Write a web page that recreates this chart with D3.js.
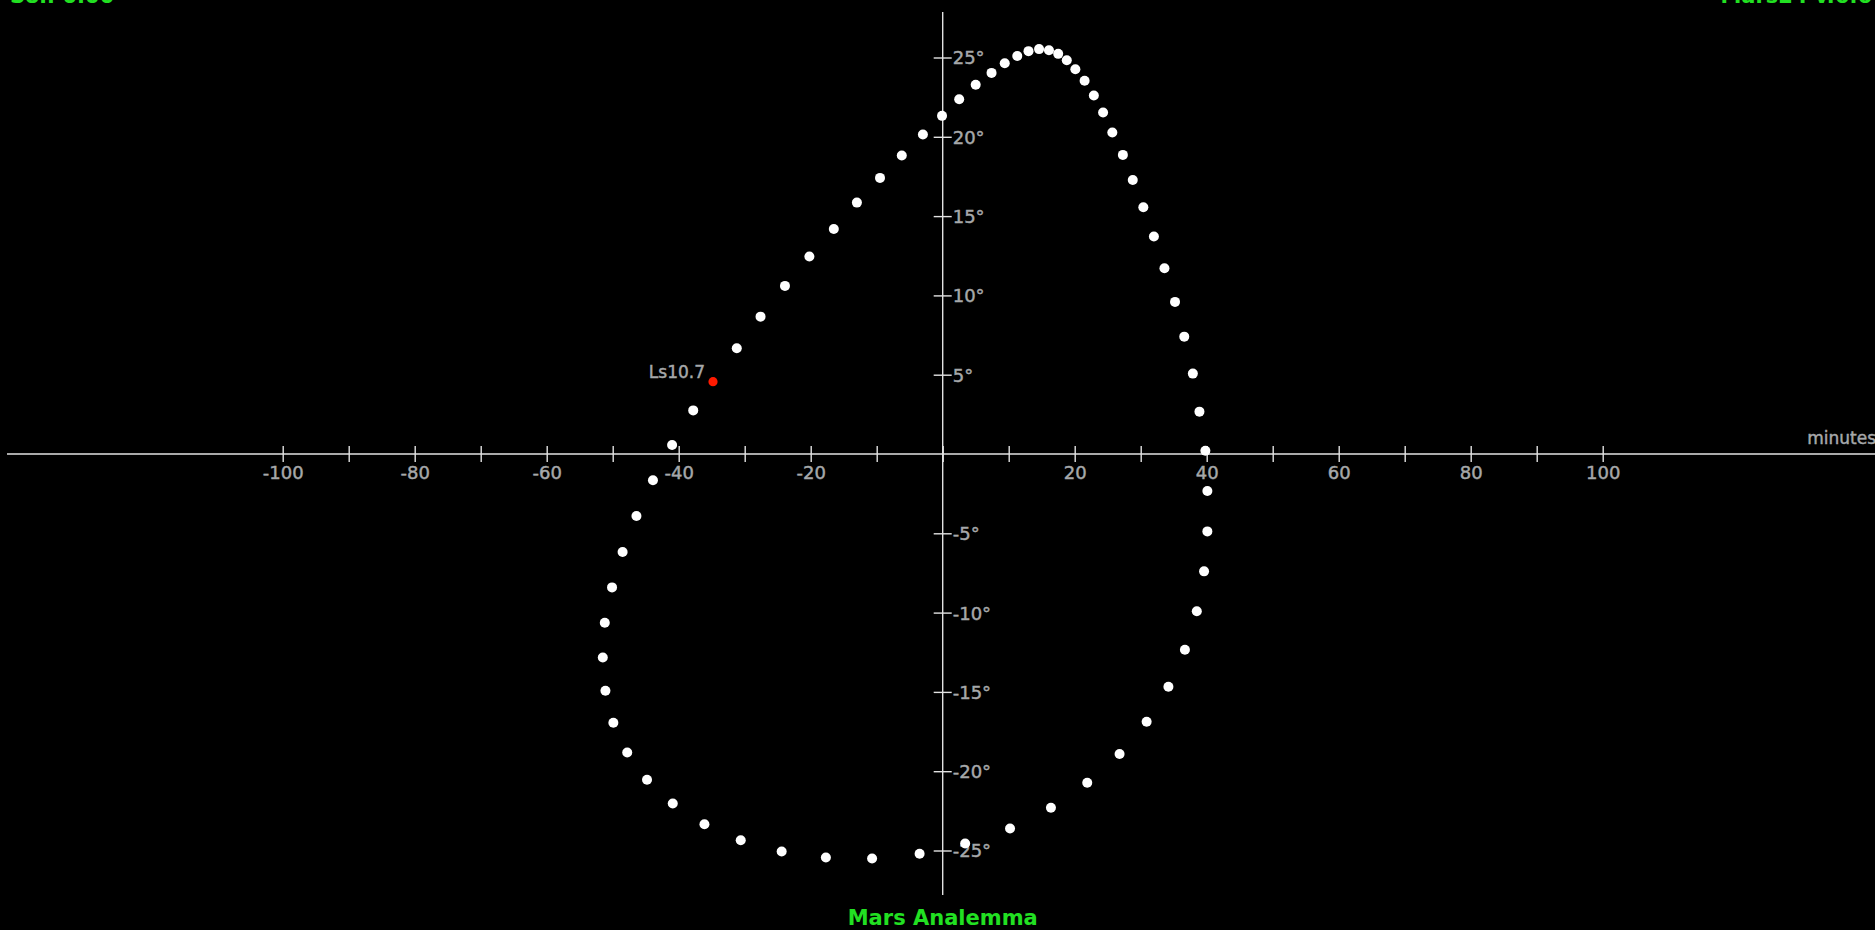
<!DOCTYPE html>
<html>
<head>
<meta charset="utf-8">
<script src="https://cdn.jsdelivr.net/npm/d3@7"></script>
<style>
body { margin: 0; background: #000; overflow: hidden; }
</style>
</head>
<body>
<div id="chart"></div>
<script>
// equation of time (minutes) and declination (degrees), in order round the loop
const minutes = [
    -41.0, -37.8, -31.2, -27.6, -23.9, -20.2, -16.5, -13.0, -9.5, -6.2,
    -3.0, -0.1, 2.5, 5.0, 7.4, 9.4, 11.3, 13.0, 14.6, 16.1,
    17.5, 18.8, 20.1, 21.5, 22.9, 24.3, 25.7, 27.3, 28.8, 30.4,
    32.0, 33.6, 35.2, 36.6, 37.9, 38.9, 39.8, 40.1, 40.1, 39.6,
    38.5, 36.7, 34.2, 30.9, 26.8, 21.9, 16.4, 10.2, 3.4, -3.5,
    -10.7, -17.7, -24.4, -30.6, -36.1, -40.9, -44.8, -47.8, -49.9, -51.1,
    -51.5, -51.2, -50.1, -48.5, -46.4, -43.9
]
const degrees = [
    0.57, 2.75, 6.67, 8.66, 10.60, 12.45, 14.19, 15.85, 17.41, 18.82,
    20.14, 21.32, 22.37, 23.28, 24.03, 24.64, 25.10, 25.40, 25.53, 25.46,
    25.23, 24.83, 24.26, 23.53, 22.60, 21.53, 20.27, 18.86, 17.28, 15.56,
    13.71, 11.71, 9.59, 7.40, 5.07, 2.67, 0.21, -2.33, -4.88, -7.40,
    -9.92, -12.34, -14.68, -16.88, -18.92, -20.73, -22.31, -23.61, -24.56, -25.21,
    -25.50, -25.44, -25.06, -24.35, -23.34, -22.04, -20.54, -18.82, -16.95, -14.93,
    -12.83, -10.64, -8.41, -6.18, -3.91, -1.66
]

// current position
const markerLabel = "Ls10.7"
const markerMinute = -34.8
const markerDegree = 4.56

const xTicks = [-100, -90, -80, -70, -60, -50, -40, -30, -20, -10, 0, 10, 20, 30, 40, 50, 60, 70, 80, 90, 100]
const xLabels = [-100, -80, -60, -40, -20, 20, 40, 60, 80, 100]
const yTicks = [-25, -20, -15, -10, -5, 5, 10, 15, 20, 25]

const title = "Mars Analemma"
const topLeftText = "Sol: 0.00"
const topRightText = "Mars24 v.6.6"

const width = 1875
const height = 930
const labelColor = "#a6a8aa"
const green = "#22e022"

const svg = d3.select("#chart")
    .append("svg")
        .attr("width", width)
        .attr("height", height)
        .style("background", "#000")

const xScale = d3.scaleLinear()
    .domain([-100, 100])
    .range([282.7, 1602.7])

const yScale = d3.scaleLinear()
    .domain([-25, 25])
    .range([850.5, 57.5])

const x0 = xScale(0)
const y0 = yScale(0)

// little helper so every grey label looks the same
function greyText(sel, size) {
    sel.attr("fill", labelColor)
        .attr("stroke", labelColor)
        .attr("stroke-width", 0.45)
        .style("font-family", "DejaVu Sans, sans-serif")
        .style("font-size", size + "px")
}

// axis lines
svg.append("line")
    .attr("x1", 7).attr("x2", width)
    .attr("y1", y0).attr("y2", y0)
    .attr("stroke", "#e2e2e2")
    .attr("stroke-width", 1.6)

svg.append("line")
    .attr("x1", x0).attr("x2", x0)
    .attr("y1", 12).attr("y2", 895)
    .attr("stroke", "#e2e2e2")
    .attr("stroke-width", 1.4)

const xAxis = svg.append("g")
    .attr("transform", `translate(0,${y0})`)
    .call(d3.axisBottom(xScale)
        .tickValues(xTicks)
        .tickSize(8)
        .tickFormat(d => xLabels.includes(d) ? String(d) : ""))

xAxis.select(".domain").remove()
xAxis.selectAll(".tick line")
    .attr("y1", -8).attr("y2", 8)
    .attr("stroke", "#e2e2e2")
    .attr("stroke-width", 1.4)
xAxis.selectAll(".tick text")
    .attr("y", 12)
    .attr("dy", "0.71em")
    .call(greyText, 18)

const yAxis = svg.append("g")
    .attr("transform", `translate(${x0},0)`)
    .call(d3.axisRight(yScale)
        .tickValues(yTicks)
        .tickSize(8)
        .tickFormat(d => String(d) + "°"))

yAxis.select(".domain").remove()
yAxis.selectAll(".tick line")
    .attr("x1", -9).attr("x2", 9)
    .attr("stroke", "#e2e2e2")
    .attr("stroke-width", 1.4)
yAxis.selectAll(".tick text")
    .attr("x", 10)
    .attr("dy", "0.36em")
    .call(greyText, 18)

svg.append("text")
    .attr("x", width + 1)
    .attr("y", 444)
    .attr("text-anchor", "end")
    .call(greyText, 17)
    .text("minutes")

// the analemma points
svg.append("g")
    .selectAll("circle")
    .data(minutes)
    .join("circle")
        .attr("cx", d => xScale(d))
        .attr("cy", (d, i) => yScale(degrees[i]))
        .attr("r", 5)
        .attr("fill", "#fff")

svg.append("circle")
    .attr("cx", xScale(markerMinute))
    .attr("cy", yScale(markerDegree))
    .attr("r", 4.6)
    .attr("fill", "#ff1a00")

svg.append("text")
    .attr("x", xScale(markerMinute) - 8)
    .attr("y", yScale(markerDegree) - 4)
    .attr("text-anchor", "end")
    .call(greyText, 17)
    .text(markerLabel)

svg.append("text")
    .attr("x", x0)
    .attr("y", 925)
    .attr("text-anchor", "middle")
    .attr("fill", green)
    .style("font-family", "DejaVu Sans, sans-serif")
    .style("font-size", "21px")
    .style("font-weight", "bold")
    .text(title)

// header texts, mostly outside the top edge like in the original
svg.append("text")
    .attr("x", 10)
    .attr("y", 2.5)
    .attr("fill", green)
    .style("font-family", "DejaVu Sans, sans-serif")
    .style("font-size", "21px")
    .style("font-weight", "bold")
    .text(topLeftText)

svg.append("text")
    .attr("x", 1872)
    .attr("y", 2.5)
    .attr("text-anchor", "end")
    .attr("fill", green)
    .style("font-family", "DejaVu Sans, sans-serif")
    .style("font-size", "21px")
    .style("font-weight", "bold")
    .text(topRightText)
</script>
</body>
</html>
